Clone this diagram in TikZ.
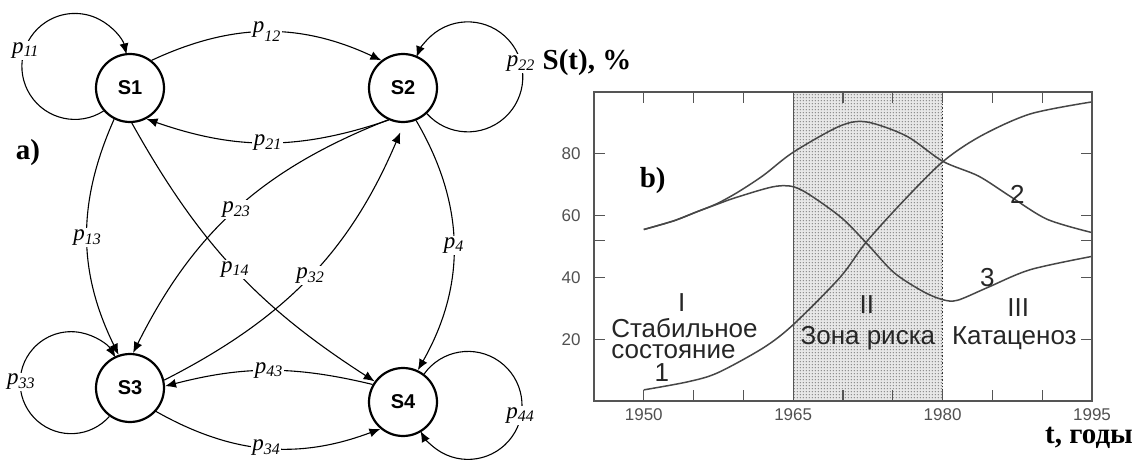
\documentclass[tikz,border=0pt]{standalone}
\usepackage{fontspec}
\setmainfont{Liberation Serif}
\setsansfont{Liberation Sans}
\usepackage{xcolor}
\usepackage{tikz}
\usetikzlibrary{arrows.meta,calc,patterns}
\definecolor{framegray}{RGB}{85,85,85}
\definecolor{curvegray}{RGB}{70,70,70}
\definecolor{ticktext}{RGB}{80,80,80}
\definecolor{shadegray}{RGB}{232,232,232}
\definecolor{dotgray}{RGB}{135,135,135}

\pgfdeclarepatternformonly{finedots}{\pgfpointorigin}{\pgfpoint{1.6pt}{1.6pt}}{\pgfpoint{1.6pt}{1.6pt}}%
  {\pgfpathcircle{\pgfpoint{0.8pt}{0.8pt}}{0.45pt}\pgfusepath{fill}}

\newcommand{\pl}[1]{\textit{p}\raisebox{-0.15em}{\fontsize{8}{8}\selectfont\itshape #1}}
\newcommand{\pll}[1]{\textit{p}\raisebox{-0.4em}{\fontsize{8}{8}\selectfont\itshape #1}}

\begin{document}
\begin{tikzpicture}[x=0.5pt, y=0.5pt, every node/.style={inner sep=0pt},
    state/.style={circle, draw, line width=1.1pt, minimum size=34pt, font=\sffamily\bfseries\fontsize{10}{12}\selectfont},
    edge/.style={line width=0.55pt, -{Latex[length=5.5pt,width=4.5pt]}},
    lbl/.style={fill=white, inner sep=0.8pt, font=\fontsize{11.5}{13}\selectfont},
    bigtxt/.style={font=\bfseries\fontsize{14.5}{16}\selectfont},
    zonetxt/.style={font=\sffamily\fontsize{13}{10.4}\selectfont, text=black!85}]
  \useasboundingbox (0,0) rectangle (1137,462);

  % Markov graph
  \node[state] (S1) at (130,374) {S1};
  \node[state] (S2) at (403,374) {S2};
  \node[state] (S3) at (130,74) {S3};
  \node[state] (S4) at (403,60) {S4};
  \node[bigtxt] (ta) at (28,309) {a)};

  % self loops
  \coordinate (c11) at (76,396);
  \coordinate (c22) at (467,386);
  \coordinate (c33) at (72,80);
  \coordinate (c44) at (467,56);
  \draw[edge] (S1.221.7) arc[start angle=-57.3, end angle=-346.9, radius=53];
  \draw[edge] (S2.313) arc[start angle=222, end angle=519, radius=55];
  \draw[edge] (S3.234.7) arc[start angle=-41.4, end angle=-330.4, radius=51];
  \draw[edge] (S4.53.7) arc[start angle=144.4, end angle=-151.7, radius=54];
  \node[lbl] (l11) at ($(c11)+(163:53)$) {\pl{11}};
  \node[lbl] (l22) at ($(c22)+(13:55)$) {\pl{22}};
  \node[lbl] (l33) at ($(c33)+(180:51)$) {\pl{33}};
  \node[lbl] (l44) at ($(c44)+(-10:54)$) {\pl{44}};

  % transitions
  \draw[edge] (S1.52) to[bend left=25] node[lbl] (l12) {\pll{12}} (S2.128);
  \draw[edge] (S2.246) to[bend left=19] node[lbl] (l21) {\pl{21}} (S1.298);
  \draw[edge] (S1.243) to[bend right=25] node[lbl] (l13) {\pl{13}} (S3.109);
  \draw[edge] (S1.273) to[bend right=14] node[lbl] (l14) {\pl{14}} (S4.144);
  \draw[edge] (S2.245) to[bend right=21] node[lbl] (l23) {\pl{23}} (S3.85);
  \draw[edge, shorten >=5pt] (S3.13) to[bend right=20] node[lbl] (l32) {\pl{32}} (S2.272);
  \draw[edge] (S2.292) to[bend left=30] node[lbl] (l24) {\pl{4}} (S4.65);
  \draw[edge] (S4.150) to[bend right=14] node[lbl] (l43) {\pl{43}} (S3.3);
  \draw[edge] (S3.318) to[bend right=25] node[lbl] (l34) {\pl{34}} (S4.230);

  % S(t) plot, t counted from 1945
  \node[bigtxt] (tS) at (587,399) {S(t), \%};
  \node[bigtxt, anchor=base] (tT) at (1089,19) {t, годы};
  \begin{scope}[shift={(594,61)}, x=4.98pt, y=1.545pt]
    \def\tA{20}
    \def\tB{35}
    \fill[shadegray] (\tA,0) rectangle (\tB,100);
    \fill[pattern=finedots, pattern color=dotgray] (\tA,0) rectangle (\tB,100);
    \draw[framegray, line width=0.6pt] (\tA,0) -- (\tA,100);
    \draw[black!80, line width=0.7pt, densely dotted] (\tB,0) -- (\tB,100);

    \foreach \t in {5,10,...,45} {
      \draw[framegray, line width=0.6pt] (\t,0) -- (\t,3.5);
      \draw[framegray, line width=0.6pt] (\t,100) -- (\t,96.5);
    }
    \foreach \v in {20,40,52,60,80} {
      \draw[framegray, line width=0.6pt] (0,\v) -- (1.1,\v);
      \draw[framegray, line width=0.6pt] (50,\v) -- (48.9,\v);
    }
    \foreach \v in {20,40,60,80}
      \node[anchor=east, text=ticktext, font=\sffamily\fontsize{8.5}{10}\selectfont] (y\v) at (-1.3,\v) {\v};
    \foreach \t/\yr in {5/1950,20/1965,35/1980,50/1995}
      \node[text=ticktext, font=\sffamily\fontsize{8.5}{10}\selectfont] (x\yr) at (\t,-4.3) {\yr};

    % curves 1, 2, 3
    \draw[curvegray, line width=0.75pt] plot[smooth] coordinates {(5,3.6) (9.4,6.2) (12.4,9.1) (17,17.2) (20,24.7)
      (24.7,40) (27.3,51.3) (31,64.5) (35,77.4) (38.8,85.7) (43.8,92.9) (50,96.8)};
    \draw[curvegray, line width=0.75pt] plot[smooth] coordinates {(5,55.5) (8,58.3) (10.3,61.2) (12.3,63.8) (14.4,67.5)
      (17,73) (20,80.5) (24.7,89) (27.4,90.3) (31.4,85.7) (35,77.6) (38.6,72.8) (41.8,66.2) (45.5,58.8) (50,54.5)};
    \draw[curvegray, line width=0.75pt] plot[smooth] coordinates {(5,55.5) (8,58.3) (10.3,61.2) (12.3,63.6) (14.4,66)
      (18.3,69.5) (20.7,68.5) (24.7,59.7) (27.3,51.3) (30.1,41.6) (33,35.5) (35,32.8) (36.5,32.6) (39.5,36.7)
      (43.8,42.5) (50,46.8)};

    \draw[framegray, line width=1pt] (0,0) rectangle (50,100);

    \node[bigtxt] (tb) at (5.9,71.5) {b)};
    \node[zonetxt] (n1) at (6.8,9.1) {1};
    \node[zonetxt] (n2) at (42.5,66.7) {2};
    \node[zonetxt] (n3) at (39.5,39.8) {3};
    \node[zonetxt] (z1) at (8.8,31.7) {I};
    \node[zonetxt] (z2) at (27.4,31.1) {II};
    \node[zonetxt] (z3) at (42.6,30.4) {III};
    \node[zonetxt, anchor=west, align=left] (zt1) at (1.7,20.1) {Стабильное\\состояние};
    \node[zonetxt] (zt2) at (27.5,20.4) {Зона риска};
    \node[zonetxt] (zt3) at (42.2,20.4) {Катаценоз};
  \end{scope}
\end{tikzpicture}
\end{document}
